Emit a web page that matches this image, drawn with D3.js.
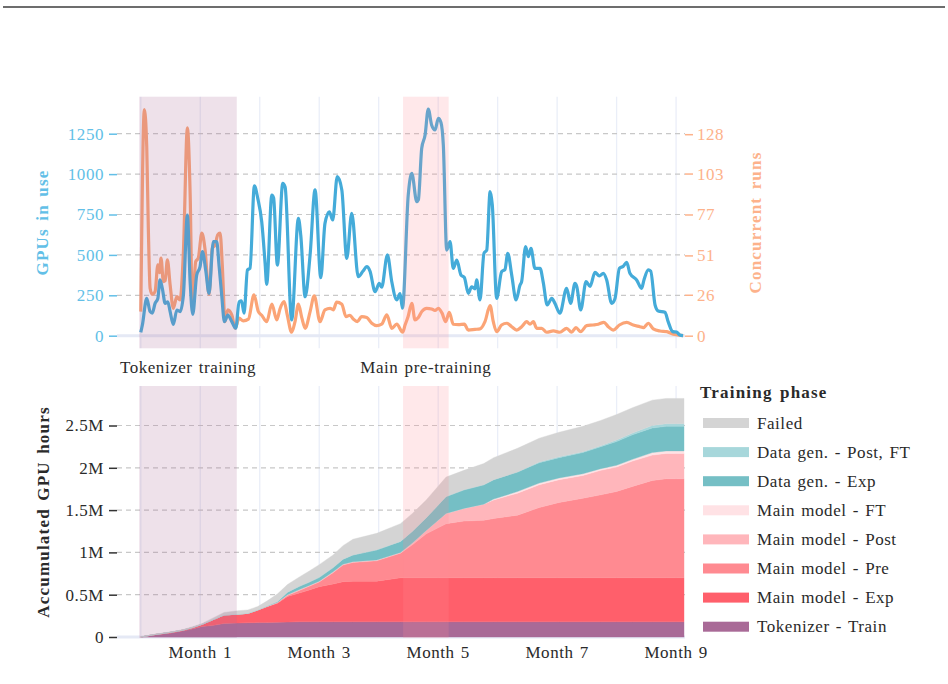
<!DOCTYPE html>
<html>
<head>
<meta charset="utf-8">
<script src="https://cdn.jsdelivr.net/npm/d3@7"></script>
<style>
  body { margin: 0; background: #fff; }
  text { font-family: "Liberation Serif", "Times New Roman", serif; letter-spacing: 0.55px; word-spacing: 1.4px; }
  text.bold { font-weight: bold; letter-spacing: 1.2px; word-spacing: 2px; }
</style>
</head>
<body>
<svg id="chart" width="948" height="684"></svg>
<script>
// ---- data (days since start) ----
let gpuDays = [0, 0.8, 3.0, 4.7, 5.8, 7.2, 8.6, 9.7, 10.9, 12.3, 13.6, 14.8, 16.4, 18.2, 19.8, 21.5, 23.5, 24.9, 26.2, 28.2,
  29.9, 31.1, 32.8, 34.4, 36.6, 38.3, 39.5, 40.8, 42.2, 43.9, 45.9, 47.9, 49.6, 50.8, 52.1, 53.8, 55.1, 57.3, 59.0, 61.0,
  62.7, 63.5, 66.1, 67.0, 68.9, 71.6, 72.8, 76.1, 79.5, 80.7, 82.9, 85.4, 87.9, 90.8, 92.9, 95.1, 96.8, 99.1, 101.4, 103.9,
  106.4, 109.7, 112.1, 114.0, 115.6, 118.2, 120.3, 121.5, 124.4, 126.6, 129.1, 130.8, 132.0, 134.9, 136.7, 139.2, 140.0, 141.7, 143.4, 145.0,
  146.7, 148.4, 150.1, 151.4, 152.6, 154.3, 156.0, 157.6, 159.4, 161.5, 163.2, 165.2, 166.9, 168.6, 169.4, 171.1, 173.1, 174.5, 176.2, 177.3,
  179.5, 182.0, 183.7, 185.1, 187.1, 189.3, 191.3, 192.1, 194.1, 195.5, 196.8, 198.8, 201.4, 203.0, 205.0, 207.3, 208.9, 211.4, 214.8, 216.8,
  219.0, 219.9, 221.9, 224.6, 226.6, 229.1, 231.3, 233.3, 235.0, 237.5, 239.2, 241.4, 243.4, 245.1, 246.7, 250.1, 252.6, 253.8, 256.0, 257.2,
  259.4, 261.0, 264.4, 266.0, 268.3, 270.3, 271.9, 273.5];
let gpuValues = [21, 66, 231, 149, 140, 200, 230, 345, 290, 200, 210, 149, 70, 159, 149, 252, 747, 330, 132, 375,
  427, 520, 400, 262, 582, 582, 430, 252, 87, 128, 87, 46, 210, 215, 139, 407, 417, 928, 850, 705,
  448, 318, 870, 852, 437, 943, 920, 97, 726, 620, 241, 500, 902, 359, 695, 767, 716, 984, 902, 479,
  757, 365, 400, 427, 400, 272, 324, 300, 500, 334, 221, 260, 170, 870, 1005, 829, 840, 1160, 1242, 1403,
  1304, 1273, 1345, 1320, 1180, 530, 582, 417, 468, 375, 360, 262, 303, 290, 345, 221, 510, 530, 891, 809,
  231, 396, 410, 510, 375, 221, 314, 335, 551, 489, 541, 417, 417, 330, 190, 231, 200, 139, 293, 200,
  324, 305, 159, 334, 305, 392, 370, 386, 345, 200, 230, 417, 430, 454, 386, 345, 293, 345, 407, 400,
  190, 153, 145, 87, 25, 22, 4, 0];

let runDays = [0, 1.8, 3.0, 3.8, 4.7, 5.8, 7.2, 8.6, 9.5, 10.2, 11.4, 12.3, 13.4, 14.8, 16.4, 18.2, 19.8, 21.5, 23.5, 24.9,
  26.0, 27.7, 29.0, 30.8, 32.4, 34.4, 36.1, 37.5, 38.8, 40.0, 41.1, 42.5, 43.9, 45.9, 47.6, 49.6, 51.7, 54.3, 57.1, 59.3,
  61.0, 63.5, 66.1, 68.6, 70.2, 72.3, 73.9, 76.1, 77.8, 79.5, 81.2, 82.9, 85.4, 87.5, 90.4, 92.9, 95.5, 97.1, 98.8, 101.4,
  103.5, 105.5, 107.2, 109.2, 111.4, 114.0, 116.5, 119.0, 121.5, 124.1, 126.6, 129.1, 132.1, 133.3, 134.8, 136.7, 138.3, 140.0, 141.7, 144.2,
  146.7, 148.4, 150.1, 151.9, 153.8, 155.6, 157.6, 160.2, 163.2, 165.2, 168.6, 171.1, 173.6, 176.2, 177.8, 179.5, 182.0, 184.6, 187.1, 189.6,
  192.1, 194.7, 196.3, 198.0, 199.7, 202.2, 204.7, 208.1, 211.4, 214.8, 217.3, 219.5, 221.9, 224.9, 228.2, 230.8, 233.6, 235.8, 238.3, 241.4,
  245.1, 248.4, 251.8, 253.5, 256.0, 258.5, 261.9, 265.3, 268.6, 273.6];
let runValues = [15.3, 143.7, 120, 68.4, 30.2, 26.3, 28, 45, 40, 49.3, 34.4, 35, 48.2, 32.3, 17.4, 24.8, 22.7, 53.5, 132, 89.6,
  17.4, 47.1, 49.3, 65.2, 55, 26.3, 55.6, 57.7, 64.1, 65.2, 45, 8.9, 16.4, 13.2, 4.7, 11.1, 9.4, 10.5, 25.9, 15.3,
  13, 8.9, 20, 10, 17, 21.6, 13, 2.2, 9, 20, 11.5, 4.7, 15.3, 25.3, 8.9, 16.4, 17.4, 16.4, 21.3, 20,
  12.1, 13, 10.6, 9, 12.1, 11.5, 7.9, 6.4, 7.3, 13.2, 4.7, 7.3, 2.2, 6.8, 12, 20.6, 10, 11.5, 15.3, 17.4,
  17, 16, 17.4, 14.5, 8.9, 14.9, 7.3, 7, 7.3, 3.6, 4, 4.3, 8.9, 19.1, 8.9, 2.5, 6.8, 7.9, 5.7, 3.6,
  5.7, 8.9, 7.3, 8.9, 4.7, 4.7, 2.2, 3, 2.2, 4.7, 2.2, 5.1, 2.6, 6.4, 6.8, 7.3, 8.5, 5.7, 3.6, 6.8,
  8.5, 6.8, 5.7, 5.1, 7.9, 4.3, 3, 2.6, 0.9, 0];

// accumulated GPU hours (millions) per phase
let hourDays = [0, 6, 15, 21, 26, 31, 36, 42, 49, 54, 59, 64, 69, 74, 80, 85, 90, 97, 102, 107,
  119, 131, 137, 144, 154, 163, 173, 178, 190, 201, 211, 223, 232, 240, 248, 258, 265, 274];
let tokTrain = [0, .02, .045, .07, .095, .125, .135, .16, .165, .168, .17, .172, .174, .176, .18, .18, .18, .18, .18, .18,
  .18, .18, .18, .18, .18, .18, .18, .18, .18, .18, .18, .18, .18, .18, .18, .18, .18, .18];
let mainExp = [0, .005, .01, .01, .015, .025, .065, .10, .105, .112, .15, .188, .226, .304, .34, .375, .415, .446, .474, .48,
  .48, .52, .52, .52, .52, .52, .52, .52, .52, .52, .52, .52, .52, .52, .52, .52, .52, .52];
let mainPre = [0, 0, 0, 0, 0, 0, 0, 0, 0, 0, 0, .005, .01, .01, .03, .045, .055, .134, .196, .22,
  .24, .29, .39, .52, .64, .67, .68, .70, .74, .83, .89, .94, .98, 1.02, 1.08, 1.15, 1.17, 1.17];
let mainPost = [0, 0, 0, 0, 0, 0, 0, 0, 0, 0, 0, 0, 0, .01, .01, .01, .01, .01, .01, .01,
  .01, .01, .02, .04, .12, .15, .19, .22, .26, .27, .27, .27, .29, .29, .30, .30, .30, .30];
let mainFT = [0, 0, 0, 0, 0, 0, 0, 0, 0, 0, 0, 0, 0, 0, 0, 0, 0, 0, 0, 0,
  0, 0, 0, 0, 0, 0, 0, .01, .02, .02, .02, .02, .02, .02, .02, .03, .03, .03];
let dataGenExp = [0, 0, 0, 0, 0, 0, 0, 0, 0, 0, 0, .005, .01, .03, .04, .04, .045, .05, .06, .08,
  .12, .13, .14, .15, .20, .22, .23, .23, .23, .24, .24, .25, .26, .28, .29, .29, .29, .29];
let dataGenPost = [0, 0, 0, 0, 0, 0, 0, 0, 0, 0, 0, 0, 0, 0, 0, 0, 0, 0, 0, 0,
  0, 0, 0, 0, 0, 0, 0, 0, 0, .01, .01, .01, .01, .02, .02, .03, .03, .03];
let failed = [0, .003, .005, .005, .01, .01, .02, .03, .04, .04, .04, .06, .09, .09, .11, .13, .15, .15, .16, .185,
  .195, .21, .21, .21, .23, .23, .25, .26, .28, .28, .29, .30, .30, .30, .30, .30, .30, .30];

let phaseNames = ["Tokenizer - Train", "Main model - Exp", "Main model - Pre", "Main model - Post",
  "Main model - FT", "Data gen. - Exp", "Data gen. - Post, FT", "Failed"];
let phaseSeries = [tokTrain, mainExp, mainPre, mainPost, mainFT, dataGenExp, dataGenPost, failed];
let phaseColors = ["#a96a97", "#ff5f6b", "#ff8a91", "#ffb6bb", "#ffe2e5", "#75bfc5", "#a7d7db", "#d4d4d4"];

let gpuTicks = [0, 250, 500, 750, 1000, 1250];
let runTicks = [0, 26, 51, 77, 103, 128];
let hourTicks = [0, 0.5, 1, 1.5, 2, 2.5];
let months = [0, 1, 2, 3, 4, 5, 6, 7, 8, 9];
let monthLabels = [1, 3, 5, 7, 9];
let periods = [
  { name: "Tokenizer training", start: -0.8, end: 48.4, color: "#a96a97", alpha: 0.2 },
  { name: "Main pre-training", start: 132.3, end: 155.3, color: "#ff8a94", alpha: 0.2 }
];

// ---- layout ----
let svg = d3.select("#chart");
let left = 117, right = 685;
let top1 = 96.7, bot1 = 348.3, top2 = 386, bot2 = 638;
let blue = "#44abd9", orange = "#fba476", blueText = "#62bfe7", orangeText = "#fdb28b";

let x = d3.scaleLinear().domain([-12, 274.5]).range([left, right]);
let yG = d3.scaleLinear().domain([-78, 1479]).range([bot1, top1]);
let k = 0.10265;
let yR = d3.scaleLinear().domain([-78 * k, 1479 * k]).range([bot1, top1]);
let yH = d3.scaleLinear().domain([-0.012, 2.967]).range([bot2, top2]);

// rule at the top of the page
svg.append("line").attr("x1", 3).attr("x2", 945).attr("y1", 7).attr("y2", 7)
  .attr("stroke", "#3c3c3c").attr("stroke-width", 1.3);

function drawGrid(yScale, ticks, t, b) {
  let g = svg.append("g");
  g.selectAll(".vg").data(months).enter().append("line")
    .attr("x1", m => x(m * 30)).attr("x2", m => x(m * 30))
    .attr("y1", t).attr("y2", b)
    .attr("stroke", "#eaeef8").attr("stroke-width", 1.3);
  g.selectAll(".hg").data(ticks.filter(v => v !== 0)).enter().append("line")
    .attr("x1", left).attr("x2", right)
    .attr("y1", v => yScale(v)).attr("y2", v => yScale(v))
    .attr("stroke", "#c8c8c8").attr("stroke-width", 1.2).attr("stroke-dasharray", "5,4");
  g.append("line").attr("x1", left).attr("x2", right)
    .attr("y1", yScale(0)).attr("y2", yScale(0))
    .attr("stroke", "#e5e9f5").attr("stroke-width", 3);
}

drawGrid(yG, gpuTicks, top1, bot1);
drawGrid(yH, hourTicks, top2, bot2);

// ---- top panel lines ----
let gpuData = gpuDays.map((d, i) => ({ day: d, v: gpuValues[i] }));
let runData = runDays.map((d, i) => ({ day: d, v: runValues[i] }));

svg.append("path").datum(runData)
  .attr("fill", "none").attr("stroke", orange).attr("stroke-width", 3.2)
  .attr("stroke-linejoin", "round")
  .attr("d", d3.line().x(d => x(d.day)).y(d => yR(d.v)).curve(d3.curveMonotoneX));

svg.append("path").datum(gpuData)
  .attr("fill", "none").attr("stroke", blue).attr("stroke-width", 3.2)
  .attr("stroke-linejoin", "round")
  .attr("d", d3.line().x(d => x(d.day)).y(d => yG(d.v)).curve(d3.curveMonotoneX));

// ---- bottom panel stacked areas ----
let rows = hourDays.map((d, i) => {
  let r = { day: d };
  phaseNames.forEach((n, j) => r[n] = phaseSeries[j][i]);
  return r;
});
let stacked = d3.stack().keys(phaseNames)(rows);
let area = d3.area()
  .x(d => x(d.data.day)).y0(d => yH(d[0])).y1(d => yH(d[1]));

svg.append("g").selectAll("path").data(stacked).enter().append("path")
  .attr("fill", (s, i) => phaseColors[i])
  .attr("stroke", (s, i) => phaseColors[i]).attr("stroke-width", 0.4)
  .attr("d", area);

// ---- highlighted periods ----
[[top1, bot1], [top2, bot2]].forEach(([t, b]) => {
  svg.append("g").selectAll("rect").data(periods).enter().append("rect")
    .attr("x", p => x(p.start)).attr("width", p => x(p.end) - x(p.start))
    .attr("y", t).attr("height", b - t)
    .attr("fill", p => p.color).attr("fill-opacity", p => p.alpha);
});

svg.append("g").selectAll("text").data(periods).enter().append("text")
  .attr("x", p => (x(p.start) + x(p.end)) / 2).attr("y", 373)
  .attr("text-anchor", "middle").attr("font-size", 17).attr("fill", "#2a2a2a")
  .text(p => p.name);

// ---- axes ----
function styleAxis(g, lineColor, textColor) {
  g.select(".domain").remove();
  g.selectAll(".tick line").attr("stroke", lineColor).attr("stroke-width", 1.5);
  g.selectAll(".tick text").attr("fill", textColor).attr("font-size", 17)
    .attr("font-family", "Liberation Serif, serif");
}

svg.append("g").attr("transform", `translate(${left},0)`)
  .call(d3.axisLeft(yG).tickValues(gpuTicks).tickSize(8).tickPadding(5).tickFormat(d3.format("d")))
  .call(g => styleAxis(g, blueText, blueText));

svg.append("g").attr("transform", `translate(${right},0)`)
  .call(d3.axisRight(yR).tickValues(runTicks).tickSize(8).tickPadding(4).tickFormat(d3.format("d")))
  .call(g => styleAxis(g, orangeText, orangeText));

svg.append("g").attr("transform", `translate(${left},0)`)
  .call(d3.axisLeft(yH).tickValues(hourTicks).tickSize(8).tickPadding(5)
    .tickFormat(v => v === 0 ? "0" : v + "M"))
  .call(g => styleAxis(g, "#333", "#2a2a2a"));

svg.append("g").selectAll("text").data(monthLabels).enter().append("text")
  .attr("x", m => x(m * 30)).attr("y", 658)
  .attr("text-anchor", "middle").attr("font-size", 17).attr("fill", "#2a2a2a")
  .text(m => "Month " + m);

// axis titles
function vTitle(txt, cx, cy, color) {
  svg.append("text").attr("class", "bold")
    .attr("transform", `translate(${cx},${cy}) rotate(-90)`)
    .attr("text-anchor", "middle").attr("dy", "0.35em")
    .attr("font-size", 17).attr("fill", color)
    .text(txt);
}
vTitle("GPUs in use", 42, (top1 + bot1) / 2, blueText);
vTitle("Concurrent runs", 755, (top1 + bot1) / 2, orangeText);
vTitle("Accumulated GPU hours", 43, (top2 + bot2) / 2, "#2a2a2a");

// ---- legend ----
let legend = svg.append("g").attr("transform", "translate(700,0)");
legend.append("text").attr("class", "bold").attr("x", 0).attr("y", 398)
  .attr("font-size", 17).attr("fill", "#2a2a2a")
  .text("Training phase");
let legendItems = phaseNames.map((n, i) => ({ name: n, color: phaseColors[i] })).reverse();
let item = legend.selectAll(".item").data(legendItems).enter().append("g")
  .attr("transform", (d, i) => `translate(0,${423 + i * 29.1})`);
item.append("rect").attr("x", 3).attr("y", -5).attr("width", 46).attr("height", 10)
  .attr("fill", d => d.color);
item.append("text").attr("x", 57).attr("y", 5.5)
  .attr("font-size", 17).attr("fill", "#2a2a2a").text(d => d.name);
</script>
</body>
</html>
